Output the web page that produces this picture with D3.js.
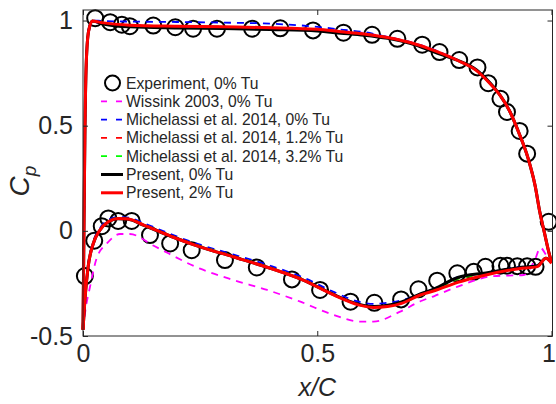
<!DOCTYPE html>
<html>
<head>
<meta charset="utf-8">
<title>Cp distribution</title>
<script src="https://d3js.org/d3.v7.min.js"></script>
<style>
body { margin: 0; background: #fff; }
svg text { font-family: "Liberation Sans", Arial, Helvetica, sans-serif; fill: #262626; }
</style>
</head>
<body>
<div class="chart"></div>
<script>
// ---- data ----
// experiment, pressure side (upper branch) and suction side (lower branch)
var expPsX  = [0.026, 0.058, 0.083, 0.100, 0.150, 0.197, 0.235, 0.286, 0.361, 0.421, 0.491, 0.556, 0.617, 0.671, 0.724, 0.761, 0.803, 0.842, 0.865, 0.891, 0.905, 0.932, 0.948, 0.994];
var expPsCp = [1.011, 0.992, 0.980, 0.973, 0.976, 0.968, 0.961, 0.961, 0.961, 0.963, 0.953, 0.942, 0.932, 0.913, 0.885, 0.850, 0.812, 0.777, 0.702, 0.628, 0.565, 0.475, 0.367, 0.043];
var expSsX  = [0.004, 0.024, 0.040, 0.054, 0.075, 0.104, 0.143, 0.186, 0.232, 0.303, 0.371, 0.446, 0.506, 0.571, 0.622, 0.679, 0.716, 0.756, 0.799, 0.834, 0.859, 0.891, 0.905, 0.927, 0.948, 0.966];
var expSsCp = [-0.215, -0.047, 0.022, 0.059, 0.047, 0.047, -0.020, -0.060, -0.092, -0.139, -0.174, -0.231, -0.281, -0.337, -0.342, -0.326, -0.278, -0.237, -0.202, -0.195, -0.171, -0.166, -0.166, -0.168, -0.168, -0.171];

// x stations used for the computed curves
var psX = [0, 0.002, 0.004, 0.007, 0.012, 0.02, 0.04, 0.1, 0.2, 0.3, 0.4, 0.5, 0.55, 0.6, 0.65, 0.7, 0.75, 0.8, 0.84, 0.87, 0.89, 0.91, 0.93, 0.95, 0.965, 0.975, 0.985, 0.993, 1.0];
var ssX = [0, 0.004, 0.011, 0.022, 0.036, 0.054, 0.075, 0.097, 0.13, 0.19, 0.25, 0.32, 0.4, 0.47, 0.535, 0.59, 0.62, 0.65, 0.68, 0.72, 0.75, 0.8, 0.86, 0.93, 0.97, 0.988, 1.0];

// Wissink 2003, 0% Tu
var wisPs = [-0.47, -0.05, 0.4, 0.78, 0.94, 0.99, 0.988, 0.978, 0.972, 0.969, 0.965, 0.958, 0.95, 0.94, 0.922, 0.897, 0.86, 0.812, 0.765, 0.7, 0.645, 0.575, 0.47, 0.345, 0.215, 0.09, -0.01, -0.09, -0.15];
var wisSsX = [0, 0.005, 0.015, 0.029, 0.051, 0.079, 0.1, 0.15, 0.25, 0.321, 0.393, 0.464, 0.535, 0.592, 0.62, 0.677, 0.72, 0.75, 0.8, 0.877, 0.941, 0.966, 0.976, 0.99, 1.0];
var wisSs = [-0.47, -0.38, -0.266, -0.131, -0.06, -0.015, -0.015, -0.07, -0.18, -0.234, -0.281, -0.337, -0.4, -0.432, -0.432, -0.384, -0.335, -0.31, -0.265, -0.215, -0.21, -0.13, -0.08, -0.12, -0.15];
// Michelassi et al. 2014, 0% Tu
var mi0Ps = [-0.47, 0.02, 0.46, 0.82, 0.96, 1.0, 0.998, 0.995, 0.993, 0.99, 0.985, 0.97, 0.957, 0.945, 0.922, 0.896, 0.86, 0.81, 0.762, 0.697, 0.645, 0.575, 0.47, 0.345, 0.215, 0.09, -0.01, -0.09, -0.15];
var mi0Ss = [-0.47, -0.32, -0.16, -0.05, 0.012, 0.052, 0.066, 0.063, 0.036, -0.018, -0.066, -0.112, -0.166, -0.222, -0.29, -0.338, -0.347, -0.342, -0.33, -0.3, -0.275, -0.22, -0.2, -0.172, -0.163, -0.13, -0.15];
// Michelassi et al. 2014, 1.2% Tu
var mi1Ps = [-0.47, 0.0, 0.45, 0.8, 0.95, 0.995, 0.99, 0.978, 0.973, 0.97, 0.966, 0.958, 0.948, 0.937, 0.92, 0.895, 0.858, 0.81, 0.762, 0.697, 0.645, 0.575, 0.47, 0.345, 0.215, 0.09, -0.01, -0.09, -0.15];
var mi1Ss = [-0.47, -0.33, -0.17, -0.058, 0.006, 0.046, 0.061, 0.058, 0.03, -0.024, -0.072, -0.119, -0.174, -0.23, -0.3, -0.35, -0.36, -0.356, -0.342, -0.307, -0.282, -0.228, -0.205, -0.178, -0.168, -0.13, -0.15];
// Michelassi et al. 2014, 3.2% Tu
var mi3Ps = [-0.47, 0.0, 0.45, 0.8, 0.95, 0.995, 0.99, 0.978, 0.973, 0.97, 0.966, 0.958, 0.948, 0.937, 0.92, 0.895, 0.858, 0.81, 0.762, 0.697, 0.645, 0.575, 0.47, 0.345, 0.215, 0.09, -0.01, -0.09, -0.15];
var mi3Ss = [-0.47, -0.33, -0.17, -0.058, 0.005, 0.045, 0.06, 0.057, 0.029, -0.025, -0.073, -0.12, -0.175, -0.231, -0.302, -0.352, -0.362, -0.358, -0.343, -0.308, -0.283, -0.228, -0.206, -0.178, -0.168, -0.13, -0.15];
// Present, 0% Tu
var pr0Ps = [-0.47, 0.0, 0.45, 0.8, 0.95, 0.998, 0.985, 0.97, 0.965, 0.962, 0.957, 0.95, 0.94, 0.93, 0.915, 0.89, 0.85, 0.81, 0.765, 0.7, 0.645, 0.572, 0.468, 0.345, 0.215, 0.09, -0.01, -0.09, -0.15];
var pr0Ss = [-0.47, -0.33, -0.17, -0.06, 0.003, 0.043, 0.058, 0.055, 0.026, -0.028, -0.076, -0.123, -0.178, -0.234, -0.303, -0.35, -0.36, -0.354, -0.338, -0.3, -0.276, -0.222, -0.2, -0.175, -0.166, -0.13, -0.15];
// Present, 2% Tu
var pr2Ps = [-0.47, 0.0, 0.45, 0.8, 0.95, 0.998, 0.99, 0.978, 0.973, 0.97, 0.966, 0.958, 0.947, 0.936, 0.919, 0.894, 0.857, 0.81, 0.762, 0.697, 0.645, 0.572, 0.468, 0.345, 0.215, 0.09, -0.01, -0.09, -0.15];
var pr2Ss = [-0.47, -0.33, -0.17, -0.06, 0.003, 0.043, 0.059, 0.056, 0.027, -0.028, -0.076, -0.123, -0.178, -0.234, -0.305, -0.353, -0.364, -0.36, -0.345, -0.305, -0.285, -0.245, -0.21, -0.18, -0.17, -0.13, -0.155];

var legendLabels = ["Experiment, 0% Tu", "Wissink 2003, 0% Tu", "Michelassi et al. 2014, 0% Tu",
  "Michelassi et al. 2014, 1.2% Tu", "Michelassi et al. 2014, 3.2% Tu", "Present, 0% Tu", "Present, 2% Tu"];
var xTicks = [0, 0.5, 1], xTickLabels = ["0", "0.5", "1"];
var yTicks = [-0.5, 0, 0.5, 1], yTickLabels = ["-0.5", "0", "0.5", "1"];

// ---- layout ----
var W = 556, H = 404;
var margin = {top: 10, right: 4, bottom: 68, left: 83};
var width = W - margin.left - margin.right, height = H - margin.top - margin.bottom;

var svg = d3.select(".chart").append("svg")
    .attr("width", W).attr("height", H);
var g = svg.append("g").attr("transform", "translate(" + margin.left + "," + margin.top + ")");

var x = d3.scaleLinear().domain([0, 1]).range([0, 468.5]);
var y = d3.scaleLinear().domain([-0.5, 1.05]).range([height, 0]);

function pts(xs, ys) { return xs.map(function(v, i) { return [v, ys[i]]; }); }

var line = d3.line()
    .x(function(d) { return x(d[0]); })
    .y(function(d) { return y(d[1]); })
    .curve(d3.curveMonotoneX);

// series, in drawing order
var series = [
  {name: legendLabels[1], color: "#ff00ff", dash: "7,6", w: 1.8, sides: [pts(psX, wisPs), pts(wisSsX, wisSs)]},
  {name: legendLabels[2], color: "#0000ff", dash: "7,6", w: 1.8, sides: [pts(psX, mi0Ps), pts(ssX, mi0Ss)]},
  {name: legendLabels[3], color: "#ff0000", dash: "7,6", w: 1.8, sides: [pts(psX, mi1Ps), pts(ssX, mi1Ss)]},
  {name: legendLabels[4], color: "#00ff00", dash: "7,6", w: 1.8, sides: [pts(psX, mi3Ps), pts(ssX, mi3Ss)]},
  {name: legendLabels[5], color: "#000000", dash: null, w: 3, sides: [pts(psX, pr0Ps), pts(ssX, pr0Ss)]},
  {name: legendLabels[6], color: "#ff0000", dash: null, w: 3, sides: [pts(psX, pr2Ps), pts(ssX, pr2Ss)]}
];

// experiment circles first (underneath the lines)
g.selectAll(".exp")
  .data(pts(expPsX, expPsCp).concat(pts(expSsX, expSsCp)))
  .enter().append("circle")
    .attr("class", "exp")
    .attr("cx", function(d) { return x(d[0]); })
    .attr("cy", function(d) { return y(d[1]); })
    .attr("r", 8)
    .attr("fill", "none")
    .attr("stroke", "#000")
    .attr("stroke-width", 2);

series.forEach(function(s) {
  s.sides.forEach(function(p) {
    g.append("path")
      .attr("d", line(p))
      .attr("fill", "none")
      .attr("stroke", s.color)
      .attr("stroke-width", s.w)
      .attr("stroke-dasharray", s.dash)
      .attr("stroke-linejoin", "round");
  });
});

// box + ticks (MATLAB style, ticks pointing in)
g.append("rect").attr("width", x(1) + 1).attr("height", height)
  .attr("fill", "none").attr("stroke", "#262626").attr("stroke-width", 1);

var xAxis = g.append("g").attr("transform", "translate(0," + height + ")")
  .call(d3.axisBottom(x).tickValues(xTicks).tickSize(-5).tickPadding(8)
    .tickFormat(function(d, i) { return xTickLabels[i]; }));
var yAxis = g.append("g")
  .call(d3.axisLeft(y).tickValues(yTicks).tickSize(-5).tickPadding(10)
    .tickFormat(function(d, i) { return yTickLabels[i]; }));
g.append("g").call(d3.axisTop(x).tickValues(xTicks).tickSize(-5).tickFormat(""));
g.append("g").attr("transform", "translate(" + (x(1) + 1) + ",0)")
  .call(d3.axisRight(y).tickValues(yTicks).tickSize(-5).tickFormat(""));

g.selectAll(".domain").remove();
g.selectAll(".tick line").attr("stroke", "#262626");
g.selectAll(".tick text").attr("font-size", 25).attr("font-family", null).attr("fill", "#262626");
// keep the last x label inside the picture
xAxis.selectAll(".tick text").filter(function(d) { return d === 1; }).attr("dx", -3);

// axis labels
svg.append("text")
  .attr("x", margin.left + x(0.5)).attr("y", 396)
  .attr("text-anchor", "middle").attr("font-size", 25).attr("font-style", "italic")
  .text("x/C");
var yl = svg.append("text")
  .attr("transform", "translate(29,181) rotate(-90)")
  .attr("text-anchor", "middle").attr("font-size", 28).attr("font-style", "italic");
yl.append("tspan").text("C");
yl.append("tspan").attr("font-size", 19).attr("dy", 7).text("p");

// legend
var leg = svg.append("g").attr("transform", "translate(101,83)");
legendLabels.forEach(function(lab, i) {
  var row = leg.append("g").attr("transform", "translate(0," + (i * 18.3) + ")");
  if (i === 0) {
    row.append("circle").attr("cx", 11.5).attr("cy", 0).attr("r", 7.5)
      .attr("fill", "none").attr("stroke", "#000").attr("stroke-width", 2);
  } else {
    var s = series[i - 1];
    row.append("line").attr("x1", 0).attr("x2", 22).attr("y1", 0).attr("y2", 0)
      .attr("stroke", s.color).attr("stroke-width", s.w)
      .attr("stroke-dasharray", s.dash ? "6,9" : null);
  }
  row.append("text").attr("x", 25).attr("y", 0).attr("dy", "0.35em")
    .attr("font-size", 15.7).text(lab);
});
</script>
</body>
</html>
